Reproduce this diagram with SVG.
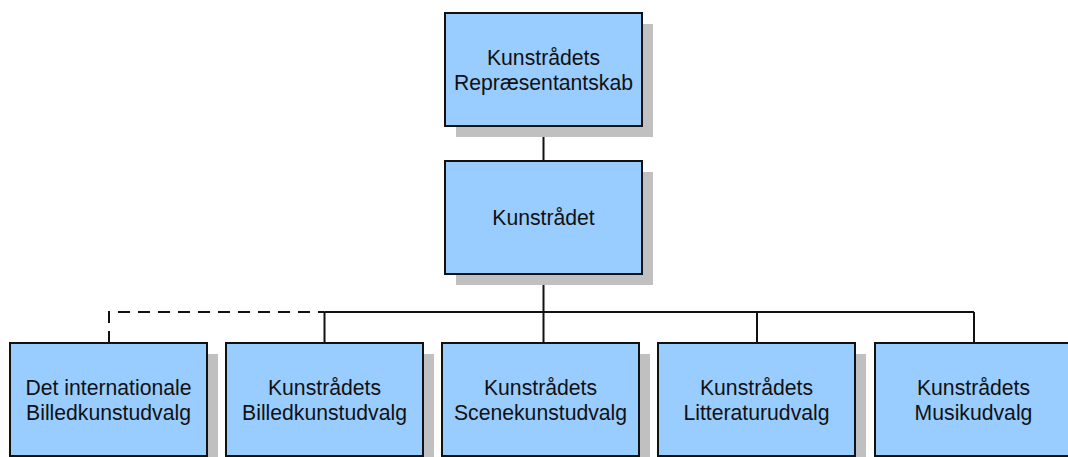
<svg xmlns="http://www.w3.org/2000/svg" width="1068" height="457" viewBox="0 0 1068 457">
<style>
.shadow{fill:#c0c0c0;stroke:none}
.box{fill:#99ccff;stroke:#111;stroke-width:2}
.lbl{font-family:"Liberation Sans",Arial,sans-serif;font-size:21.2px;fill:#111;text-anchor:middle}
.conn{fill:none;stroke:#111;stroke-width:2}
.dash{stroke-dasharray:12 8}
</style>
<rect width="1068" height="457" fill="#fff"/>
<g id="connectors">
<path class="conn" d="M543.5 126V161M543.5 274V312M324.5 312H974M324.5 312V343M543.5 312V343M757 312V343M974 312V343"/>
<path class="conn dash" d="M109 343V312H324.5"/>
</g>
<g id="n-repraesentantskab">
<rect class="shadow" x="456" y="24" width="197" height="113"/>
<rect class="box" x="445" y="13" width="197" height="113"/>
<text class="lbl" x="543.5" y="65">Kunstrådets</text>
<text class="lbl" x="543.5" y="90">Repræsentantskab</text>
</g>
<g id="n-kunstraadet">
<rect class="shadow" x="456" y="172" width="197" height="113"/>
<rect class="box" x="445" y="161" width="197" height="113"/>
<text class="lbl" x="543.5" y="225">Kunstrådet</text>
</g>
<g id="n-international">
<rect class="shadow" x="21" y="354" width="197" height="113"/>
<rect class="box" x="10" y="343" width="197" height="113"/>
<text class="lbl" x="108.5" y="395">Det internationale</text>
<text class="lbl" x="108.5" y="420">Billedkunstudvalg</text>
</g>
<g id="n-billedkunst">
<rect class="shadow" x="237" y="354" width="197" height="113"/>
<rect class="box" x="226" y="343" width="197" height="113"/>
<text class="lbl" x="324.5" y="395">Kunstrådets</text>
<text class="lbl" x="324.5" y="420">Billedkunstudvalg</text>
</g>
<g id="n-scenekunst">
<rect class="shadow" x="453" y="354" width="197" height="113"/>
<rect class="box" x="442" y="343" width="197" height="113"/>
<text class="lbl" x="540.5" y="395">Kunstrådets</text>
<text class="lbl" x="540.5" y="420">Scenekunstudvalg</text>
</g>
<g id="n-litteratur">
<rect class="shadow" x="669" y="354" width="197" height="113"/>
<rect class="box" x="658" y="343" width="197" height="113"/>
<text class="lbl" x="756.5" y="395">Kunstrådets</text>
<text class="lbl" x="756.5" y="420">Litteraturudvalg</text>
</g>
<g id="n-musik">
<rect class="shadow" x="886" y="354" width="197" height="113"/>
<rect class="box" x="875" y="343" width="197" height="113"/>
<text class="lbl" x="973.5" y="395">Kunstrådets</text>
<text class="lbl" x="973.5" y="420">Musikudvalg</text>
</g>
</svg>
